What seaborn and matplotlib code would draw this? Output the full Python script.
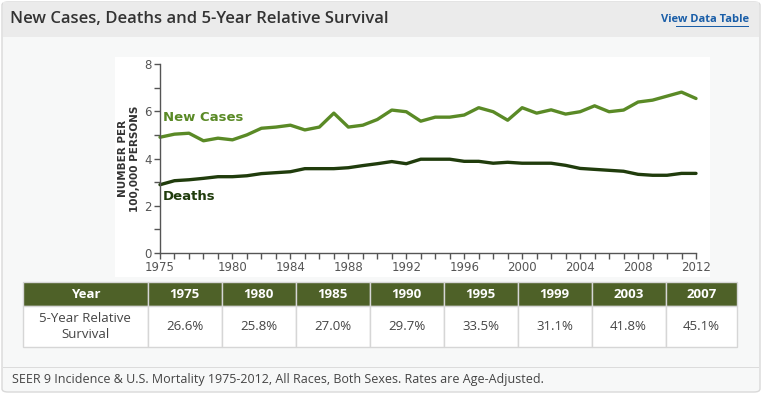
import pandas as pd
import numpy as np
import matplotlib.pyplot as plt
import matplotlib.ticker as mtick
from matplotlib.patches import Rectangle, FancyBboxPatch
import seaborn as sns

# data
years = list(range(1975, 2013))
new_cases = [4.90, 5.03, 5.07, 4.75, 4.86, 4.79, 5.00, 5.28, 5.33, 5.41,
             5.21, 5.33, 5.92, 5.33, 5.41, 5.65, 6.05, 5.98, 5.58, 5.75,
             5.75, 5.84, 6.15, 5.98, 5.62, 6.15, 5.92, 6.06, 5.88, 5.98,
             6.23, 5.98, 6.05, 6.39, 6.47, 6.64, 6.81, 6.54]
deaths = [2.89, 3.06, 3.10, 3.16, 3.23, 3.23, 3.27, 3.36, 3.40, 3.44,
          3.57, 3.57, 3.57, 3.61, 3.70, 3.78, 3.87, 3.78, 3.97, 3.97,
          3.97, 3.88, 3.88, 3.80, 3.84, 3.80, 3.80, 3.80, 3.71, 3.58,
          3.54, 3.50, 3.46, 3.33, 3.29, 3.29, 3.37, 3.37]
x_tick_labels = [1975, 1980, 1984, 1988, 1992, 1996, 2000, 2004, 2008, 2012]

survival_years = ['1975', '1980', '1985', '1990', '1995', '1999', '2003', '2007']
survival = ['26.6%', '25.8%', '27.0%', '29.7%', '33.5%', '31.1%', '41.8%', '45.1%']

#%%
sns.set_style('white')
plt.rcParams['font.family'] = ['DejaVu Sans']
narrow = ['Open Sans', 'DejaVu Sans']

W, H = 762, 394
fig = plt.figure(figsize=(W / 100, H / 100), dpi=100)
fig.patch.set_facecolor('white')

def box(x0, y0, x1, y1):
    # pixel box (top-left origin) -> figure fraction
    return [x0 / W, 1 - y1 / H, (x1 - x0) / W, (y1 - y0) / H]

def bg_rect(x0, y0, x1, y1, color, z=-10):
    fig.patches.append(Rectangle((x0 / W, 1 - y1 / H), (x1 - x0) / W, (y1 - y0) / H,
                                 transform=fig.transFigure, facecolor=color,
                                 edgecolor='none', zorder=z))

# panel background, header band, footer line
fig.patches.append(FancyBboxPatch((2 / W, 2 / H), (W - 4) / W, (H - 4) / H,
                                  boxstyle='round,pad=0,rounding_size=0.008',
                                  transform=fig.transFigure, facecolor='#f7f8f8',
                                  edgecolor='#d9d9d9', lw=1, zorder=-20))
bg_rect(3, 2.5, W - 3, 36.5, '#ebebeb')
bg_rect(3, 366.5, W - 3, 367.5, '#dcdcdc')
bg_rect(115, 57, 710, 277, 'white')   # white chart area

fig.text(10 / W, 1 - 19 / H, 'New Cases, Deaths and 5-Year Relative Survival',
         family=narrow, fontsize=12, fontweight='semibold', color='#333333',
         va='center', ha='left')
fig.text(749 / W, 1 - 20 / H, 'View Data Table', family=narrow, fontsize=8,
         fontweight='bold', color='#1a5ea8', va='center', ha='right')
bg_rect(676, 26, 749, 27, '#1a5ea8', z=3)

#%%
# line chart
df = pd.DataFrame({'year': years * 2,
                   'rate': new_cases + deaths,
                   'series': ['New Cases'] * len(years) + ['Deaths'] * len(years)})
palette = {'New Cases': '#5a8a26', 'Deaths': '#203c0c'}

ax = fig.add_axes(box(160, 64, 696, 253))
ax.patch.set_alpha(0)
sns.lineplot(data=df, x='year', y='rate', hue='series', palette=palette,
             linewidth=2.4, legend=False, ax=ax, clip_on=False)
ax.set_xlim(1975, 2012)
ax.set_ylim(0, 8)
ax.xaxis.set_major_locator(mtick.FixedLocator(x_tick_labels))
ax.xaxis.set_minor_locator(mtick.MultipleLocator(1))
ax.yaxis.set_major_locator(mtick.MultipleLocator(2))
ax.yaxis.set_minor_locator(mtick.MultipleLocator(1))
ax.tick_params(which='both', direction='out', length=4, width=1, color='#555555',
               labelsize=8.5, labelcolor='#555555', left=True, bottom=True, pad=2)
for s in ['top', 'right']:
    ax.spines[s].set_visible(False)
for s in ['left', 'bottom']:
    ax.spines[s].set_color('#555555')
    ax.spines[s].set_linewidth(1)
ax.set_xlabel('')
ax.set_ylabel('NUMBER PER\n100,000 PERSONS', fontsize=7.5, fontweight='bold',
              color='#333333', linespacing=1.3, labelpad=3)

ax.text(1975.2, 5.75, 'New Cases', fontsize=9.5, fontweight='bold',
        color=palette['New Cases'], va='center')
ax.text(1975.2, 2.4, 'Deaths', fontsize=9.5, fontweight='bold',
        color=palette['Deaths'], va='center')

#%%
# survival table
tax = fig.add_axes(box(23, 282, 737, 347))
tax.axis('off')
cells = [['5-Year Relative\nSurvival'] + survival]
col_w = np.array([124, 73.5, 73.5, 73.5, 73.5, 73.5, 73.5, 73.5, 71])
tbl = tax.table(cellText=cells, colLabels=['Year'] + survival_years,
                colWidths=list(col_w / col_w.sum()), bbox=[0, 0, 1, 1],
                cellLoc='center')
tbl.auto_set_font_size(False)
for (r, c), cell in tbl.get_celld().items():
    cell.set_edgecolor('#d6d6d6')
    cell.set_linewidth(1)
    txt = cell.get_text()
    txt.set_fontfamily(narrow)
    txt.set_fontsize(9.5)
    if r == 0:
        cell.set_facecolor('#4e6128')
        cell.set_height(24 / 65)
        txt.set_color('white')
        txt.set_fontweight('bold')
    else:
        cell.set_facecolor('white')
        cell.set_height(41 / 65)
        txt.set_color('#444444')
        txt.set_linespacing(1.3)

fig.text(12 / W, 1 - 380 / H,
         'SEER 9 Incidence & U.S. Mortality 1975-2012, All Races, Both Sexes. Rates are Age-Adjusted.',
         family=narrow, fontsize=9, color='#444444', va='center', ha='left')

plt.savefig('out.png', dpi=100, facecolor=fig.get_facecolor())
